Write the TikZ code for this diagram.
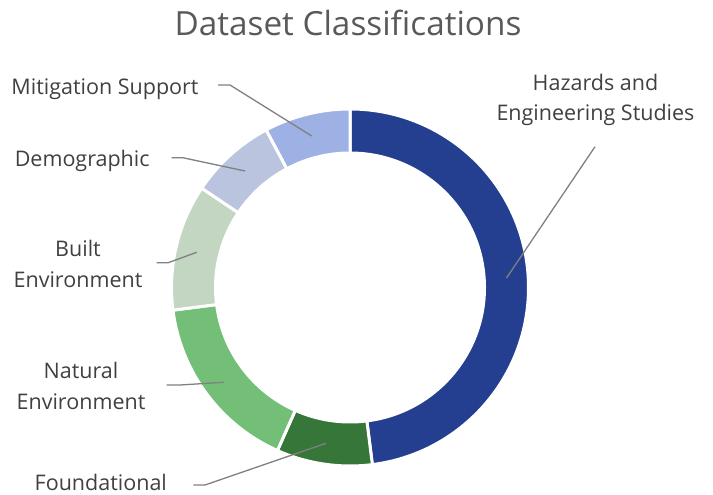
\documentclass[tikz,border=0pt]{standalone}
\usepackage{fontspec}
\setmainfont{Open Sans}
\usepackage{tikz}
\usetikzlibrary{positioning}
\definecolor{hazard}{HTML}{243F8F}
\definecolor{found}{HTML}{377639}
\definecolor{natural}{HTML}{73BF78}
\definecolor{built}{HTML}{C2D6C2}
\definecolor{demo}{HTML}{BBC4DE}
\definecolor{mitig}{HTML}{9DB1E5}
\definecolor{titlegray}{HTML}{595959}
\definecolor{labelgray}{HTML}{404040}
\definecolor{leadgray}{HTML}{808080}
\tikzset{
  seg/.style={draw=white,line width=3pt,line join=miter},
  catlabel/.style={inner sep=0pt,align=center,text=labelgray,
    font=\fontsize{21.5}{30.6}\selectfont,anchor=base},
  leader/.style={draw=leadgray,line width=1.3pt},
}

\begin{document}
\begin{tikzpicture}[x=1pt,y=1pt]
\useasboundingbox (0,0) rectangle (713,495);
% title
\node[inner sep=0pt,anchor=base,text=titlegray,font=\fontsize{33.3}{38}\selectfont]
  (title) at (348,459.3) {Dataset Classifications};
% ring
\coordinate (ctr) at (350,207.5);
\begin{scope}[shift={(ctr)}]
\def\ro{178.5} \def\ri{134.5}
\foreach \from/\to/\col in {90/-82.8/hazard,-82.8/-114/found,-114/-172.7/natural,
    -172.7/-213.8/built,-213.8/-242/demo,-242/-270/mitig}
  \filldraw[seg,fill=\col] (\from:\ro) arc[start angle=\from,end angle=\to,radius=\ro]
    -- (\to:\ri) arc[start angle=\to,end angle=\from,radius=\ri] -- cycle;
\end{scope}
% labels (base = last line)
\node[catlabel] (hazlbl) at (595.5,374) {Hazards and\\Engineering Studies};
\node[catlabel] (mitlbl) at (105,400.7) {Mitigation Support};
\node[catlabel] (demlbl) at (82.2,328.3) {Demographic};
\node[catlabel] (bltlbl) at (78,207.7) {Built\\Environment};
\node[catlabel] (natlbl) at (81,85.7) {Natural\\Environment};
\node[catlabel] (fndlbl) at (100.8,4) {Foundational};
% leader lines
\coordinate (haz-a) at (595,348.3);  \coordinate (haz-b) at (506.5,217);
\coordinate (mit-a) at (218,410);    \coordinate (mit-b) at (311.7,359);
\coordinate (dem-a) at (171.7,337.3);\coordinate (dem-b) at (245,324);
\coordinate (blt-a) at (156.7,232.3);\coordinate (blt-b) at (196.7,242.7);
\coordinate (nat-a) at (166.7,110);  \coordinate (nat-b) at (224,112.7);
\coordinate (fnd-a) at (193.3,10);   \coordinate (fnd-b) at (326,51.7);
\draw[leader] (haz-a) -- (haz-b);
\draw[leader] (mit-a) -- ++(12,0) -- (mit-b);
\draw[leader] (dem-a) -- ++(11,0) -- (dem-b);
\draw[leader] (blt-a) -- ++(11.6,0) -- (blt-b);
\draw[leader] (nat-a) -- ++(13.3,0) -- (nat-b);
\draw[leader] (fnd-a) -- ++(11.7,0) -- (fnd-b);
\end{tikzpicture}
\end{document}
